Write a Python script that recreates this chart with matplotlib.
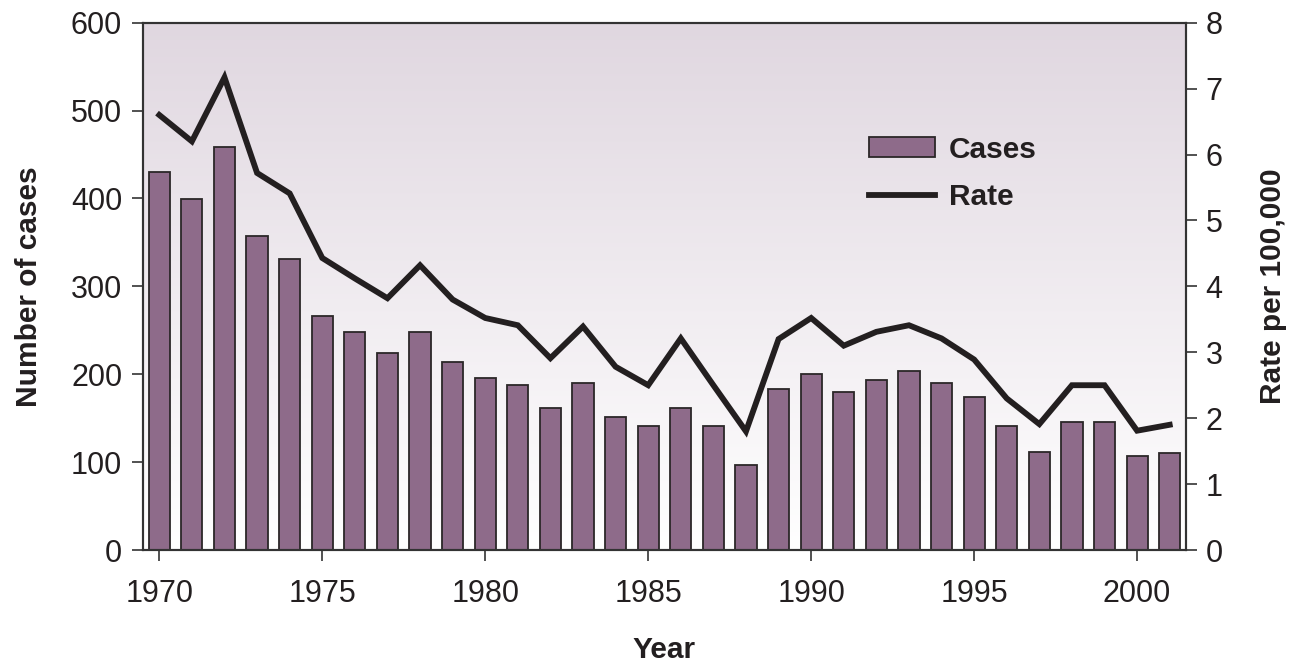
import numpy as np
import matplotlib
matplotlib.use("Agg")
import matplotlib.pyplot as plt
from matplotlib.colors import LinearSegmentedColormap
from matplotlib.patches import Patch
from matplotlib.lines import Line2D

plt.rcParams["font.family"] = ["Liberation Sans", "DejaVu Sans"]

# data
years = list(range(1970, 2002))
cases = [430, 399, 459, 357, 331, 266, 248, 224, 248, 214,
         196, 188, 162, 190, 151, 141, 162, 141, 97, 183,
         200, 180, 193, 204, 190, 174, 141, 112, 146, 146,
         107, 110]
rate = [6.6, 6.2, 7.17, 5.72, 5.41, 4.43, 4.12, 3.82, 4.32, 3.8,
        3.52, 3.41, 2.91, 3.39, 2.78, 2.5, 3.21, 2.5, 1.8, 3.2,
        3.52, 3.1, 3.31, 3.41, 3.21, 2.89, 2.3, 1.91, 2.5, 2.5,
        1.81, 1.9]

bar_color = "#8e6b8a"
edge = "#2b2728"
line_color = "#231f20"

fig = plt.figure(figsize=(12.94, 6.63), dpi=100)
ax1 = fig.add_axes([143 / 1294, 1 - 550 / 663, (1186 - 143) / 1294, (550 - 22.7) / 663])
ax2 = ax1.twinx()

# background gradient, light mauve at top fading to white
cmap = LinearSegmentedColormap.from_list("bg", ["#ffffff", "#e0d7e0"])
grad = np.linspace(0, 1, 256).reshape(-1, 1)
ax1.imshow(grad, cmap=cmap, aspect="auto", origin="lower",
           extent=[0, 1, 0, 1], transform=ax1.transAxes, zorder=0)

ax1.bar(years, cases, width=0.65, color=bar_color, edgecolor=edge, linewidth=1.3, zorder=2)
ax2.plot(years, rate, color=line_color, linewidth=4.2, solid_joinstyle="miter", zorder=3)

ax1.set_xlim(1969.5, 2001.5)
ax1.set_ylim(0, 600)
ax2.set_ylim(0, 8)
ax1.set_xticks(range(1970, 2001, 5))
ax1.set_yticks(range(0, 601, 100))
ax2.set_yticks(range(0, 9))

for ax in (ax1, ax2):
    for sp in ax.spines.values():
        sp.set_color("#333333")
        sp.set_linewidth(1.5)
    ax.tick_params(length=8, width=1.2, color="#333333", labelsize=22, labelcolor="#231f20")
ax1.tick_params(axis="x", pad=13)
ax1.tick_params(axis="y", pad=7)
ax2.tick_params(axis="y", pad=6)

ax1.set_xlabel("Year", fontsize=21.5, fontweight="bold", color="#231f20", labelpad=19)
ax1.set_ylabel("Number of cases", fontsize=21.5, fontweight="bold", color="#231f20", labelpad=20)
ax2.set_ylabel("Rate per 100,000", fontsize=21.5, fontweight="bold", color="#231f20", labelpad=26)

handles = [Patch(facecolor=bar_color, edgecolor=edge, linewidth=1.3),
           Line2D([0], [0], color=line_color, linewidth=4.2)]
leg = ax2.legend(handles, ["Cases", "Rate"], loc="upper left",
                 bbox_to_anchor=((842 - 143) / 1043, 1 - (109 - 22.7) / 527.3),
                 frameon=False, handlelength=2.2, handleheight=0.65, handletextpad=0.47,
                 labelspacing=0.64, prop={"size": 21.5, "weight": "bold"})
for t in leg.get_texts():
    t.set_color("#231f20")

fig.savefig("out.png", dpi=100)
